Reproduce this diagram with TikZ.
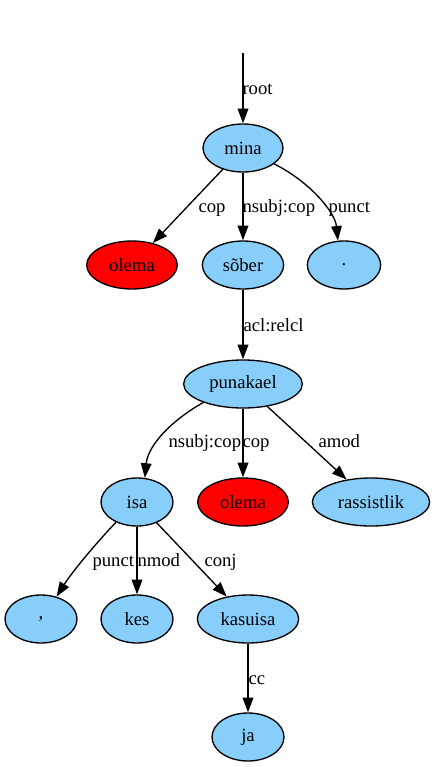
\documentclass[tikz,border=0pt]{standalone}
\usepackage{fontspec}
\setmainfont{Liberation Serif}
\usetikzlibrary{shapes.geometric,arrows.meta}
\definecolor{skyblue}{RGB}{135,206,250}

\tikzset{every picture/.style={line width=0.75pt}}
\tikzset{
  word/.style={ellipse, draw, fill=skyblue, line width=1pt, inner sep=0pt, minimum height=36pt, font=\fontsize{14}{16}\selectfont},
  copword/.style={word, fill=red},
  dep/.style={draw, line width=1pt, -{Triangle[length=11pt,width=8pt]}},
  deplabel/.style={anchor=base west, inner sep=0pt, font=\fontsize{14}{16}\selectfont}
}

\begin{document}
\begin{tikzpicture}[x=0.75pt,y=0.75pt,yscale=-1,xscale=1]
\path[use as bounding box] (0,0) rectangle (434,767);

% Word Nodes
\node [word, minimum width=60pt] (mina) at (243,148) {mina};
\node [copword, minimum width=68pt] (olemaA) at (132,265) {olema};
\node [word, minimum width=61pt] (sober) at (243,265) {sõber};
\node [word, minimum width=55pt] (dot) at (344,265) {.};
\node [word, minimum width=89pt] (punakael) at (243,384) {punakael};
\node [word, minimum width=54pt] (isa) at (137,502) {isa};
\node [copword, minimum width=68pt] (olemaB) at (243,502) {olema};
\node [word, minimum width=88pt] (rassistlik) at (371,502) {rassistlik};
\node [word, minimum width=54pt] (comma) at (41,619) {,};
\node [word, minimum width=54pt] (kes) at (137,619) {kes};
\node [word, minimum width=76pt] (kasuisa) at (248,619) {kasuisa};
\node [word, minimum width=54pt] (ja) at (248,737) {ja};
\coordinate (rootstart) at (243,53);

% Dependency Lines
\draw [dep] (rootstart) -- (mina);
\draw [dep] (mina) -- (olemaA);
\draw [dep] (mina) -- (sober);
\draw [dep] (mina.-27) .. controls (310,182) and (335,212) .. (dot.104);
\draw [dep] (sober) -- (punakael);
\draw [dep] (punakael.205) .. controls (172,420) and (148,445) .. (isa.72);
\draw [dep] (punakael) -- (olemaB);
\draw [dep] (punakael) -- (rassistlik);
\draw [dep] (isa.224) .. controls (97,542) and (72,572) .. (comma.55);
\draw [dep] (isa) -- (kes);
\draw [dep] (isa) -- (kasuisa);
\draw [dep] (kasuisa) -- (ja);

% Text Node
\node [deplabel] (lroot) at (242,94) {root};
\node [deplabel] (lcopA) at (198,212) {cop};
\node [deplabel] (lnsubjA) at (242,212) {nsubj:cop};
\node [deplabel] (lpunctA) at (328,212) {punct};
\node [deplabel] (lacl) at (243,331) {acl:relcl};
\node [deplabel] (lnsubjB) at (168,447) {nsubj:cop};
\node [deplabel] (lcopB) at (242,447) {cop};
\node [deplabel] (lamod) at (318,447) {amod};
\node [deplabel] (lpunctB) at (92,566) {punct};
\node [deplabel] (lnmod) at (137,566) {nmod};
\node [deplabel] (lconj) at (204,566) {conj};
\node [deplabel] (lcc) at (248,684) {cc};

\end{tikzpicture}
\end{document}
